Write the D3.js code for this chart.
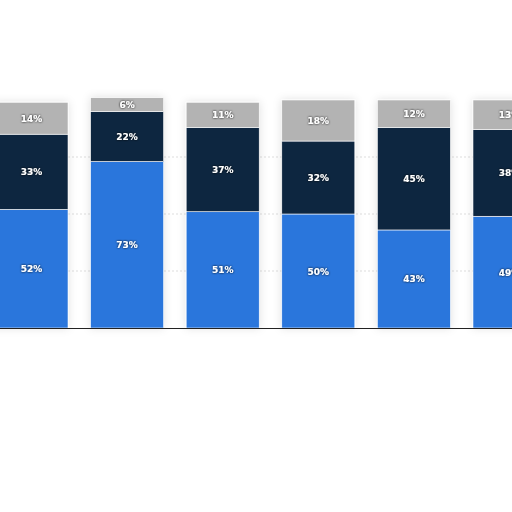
<!DOCTYPE html><html><head><script src="https://cdn.jsdelivr.net/npm/d3@7"></script>
<style>body{margin:0;background:#fff}</style></head><body><svg id="c" width="512" height="512"></svg>
<script>
const categories=["A","B","C","D","E","F"];
const seriesNames=["s1","s2","s3"];
const s1=[52,73,51,50,43,49];
const s2=[33,22,37,32,45,38];
const s3=[14,6,11,18,12,13];
const colors=["#2a76dc","#0f2640","#b3b3b3"];
const svg=d3.select("#c");
const defs=svg.append("defs");
const f=defs.append("filter").attr("id","sh").attr("x","-20%").attr("width","140%");
f.append("feDropShadow").attr("dx",0).attr("dy",0).attr("stdDeviation",4).attr("flood-color","#000").attr("flood-opacity",0.12);
const tf=defs.append("filter").attr("id","ts");
tf.append("feDropShadow").attr("dx",0).attr("dy",0).attr("stdDeviation",0.8).attr("flood-color","#000").attr("flood-opacity",1);
const x=d3.scaleBand().domain(categories).range([-16.3,557.3]).paddingInner(0.236).paddingOuter(0.118);
const y=d3.scaleLinear().domain([0,100]).range([328,100]);
[25,50,75].forEach(v=>svg.append("line").attr("x1",0).attr("x2",512).attr("y1",y(v)).attr("y2",y(v)).attr("stroke","#ddd").attr("stroke-dasharray","2,2"));
const data=categories.map((c,i)=>({c,vals:[s1[i],s2[i],s3[i]]}));
data.forEach(d=>{
  const g=svg.append("g").attr("filter","url(#sh)");
  let acc=0;
  d.vals.forEach((v,k)=>{
    g.append("rect").attr("x",x(d.c)).attr("width",x.bandwidth()).attr("y",y(acc+v)).attr("height",y(acc)-y(acc+v)).attr("fill",colors[k]).attr("stroke","#fff").attr("stroke-width",0.6);
    acc+=v;
  });
});
data.forEach(d=>{
  let acc=0;
  d.vals.forEach((v,k)=>{
    svg.append("text").attr("x",x(d.c)+x.bandwidth()/2).attr("y",y(acc+v/2)+3.5).attr("text-anchor","middle")
      .attr("font-family","DejaVu Sans").attr("font-weight","bold").attr("font-size",9).attr("fill","#fff").attr("filter","url(#ts)").text(v+"%");
    acc+=v;
  });
});
svg.append("line").attr("x1",0).attr("x2",512).attr("y1",328.5).attr("y2",328.5).attr("stroke","#222").attr("stroke-width",1);
</script></body></html>
